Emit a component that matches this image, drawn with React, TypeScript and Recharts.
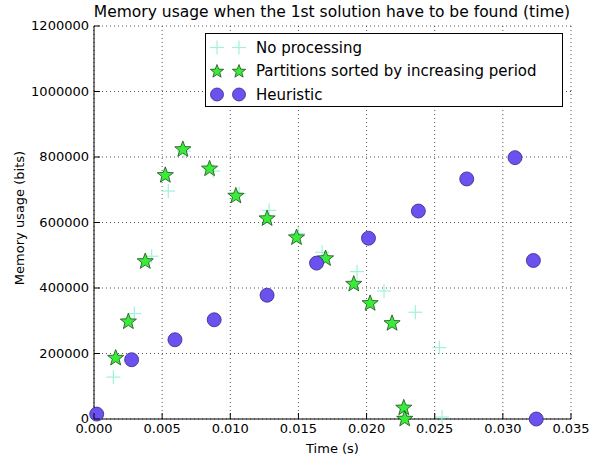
import React from 'react';
import {
  ScatterChart, Scatter, XAxis, YAxis, CartesianGrid,
} from 'recharts';

const FONT = '"DejaVu Sans", sans-serif';

// No processing (plus markers)
const plainTime = [0.00142, 0.00296, 0.00423, 0.00545, 0.0066, 0.00875, 0.01065, 0.01285, 0.01498, 0.01674, 0.0193, 0.02128, 0.02358, 0.02534, 0.02554];
const plainMem = [128000, 322000, 497000, 696000, 818000, 757000, 688000, 637000, 566000, 509000, 450000, 391000, 326000, 218000, 6000];

// Partitions sorted by increasing period (stars)
const sortedTime = [0.00159, 0.00252, 0.00376, 0.00523, 0.00652, 0.00848, 0.01041, 0.0127, 0.01486, 0.01699, 0.01906, 0.02026, 0.02187, 0.02273, 0.0228];
const sortedMem = [186000, 297000, 481000, 744000, 823000, 764000, 681000, 612000, 554000, 490000, 412000, 353000, 292000, 34000, 0];

// Heuristic (circles)
const heurTime = [0.0002, 0.00276, 0.00594, 0.00882, 0.0127, 0.01633, 0.02014, 0.0238, 0.02735, 0.03089, 0.03224, 0.03245];
const heurMem = [15000, 181000, 242000, 303000, 378000, 476000, 552000, 635000, 733000, 798000, 484000, 0];

const xTicks = [0, 0.005, 0.01, 0.015, 0.02, 0.025, 0.03, 0.035];
const yTicks = [0, 200000, 400000, 600000, 800000, 1000000, 1200000];

const seriesNames = ['No processing', 'Partitions sorted by increasing period', 'Heuristic'];

const toPoints = (ts: number[], vs: number[]) => ts.map((t, i) => ({ t, v: vs[i] }));

const PLUS_COLOR = '#9ff2dc';
const STAR_FILL = '#3aec3a';
const STAR_EDGE = '#1d4d1d';
const CIRCLE_FILL = '#6b52ee';
const CIRCLE_EDGE = '#35288a';

const Plus = ({ cx, cy }: any) => (
  <g>
    <line x1={cx - 7} x2={cx + 7} y1={cy} y2={cy} stroke={PLUS_COLOR} strokeWidth={1.2} />
    <line x1={cx} x2={cx} y1={cy - 7} y2={cy + 7} stroke={PLUS_COLOR} strokeWidth={1.2} />
  </g>
);

const starPath = (cx: number, cy: number, ro: number, ri: number) => {
  const pts: string[] = [];
  for (let k = 0; k < 10; k++) {
    const r = k % 2 === 0 ? ro : ri;
    const a = -Math.PI / 2 + (k * Math.PI) / 5;
    pts.push(`${cx + r * Math.cos(a)},${cy + r * Math.sin(a)}`);
  }
  return `M${pts.join('L')}Z`;
};

const Star = ({ cx, cy, starR = 8.5 }: any) => (
  <path d={starPath(cx, cy, starR, starR * 0.42)} fill={STAR_FILL} stroke={STAR_EDGE} strokeWidth={0.8} />
);

const Dot = ({ cx, cy, dotR = 7 }: any) => (
  <circle cx={cx} cy={cy} r={dotR} fill={CIRCLE_FILL} stroke={CIRCLE_EDGE} strokeWidth={0.8} />
);

const BottomTick = ({ x, y, payload }: any) => (
  <g>
    <line x1={x} x2={x} y1={y} y2={y - 6} stroke="#000" />
    <text x={x} y={y + 14} textAnchor="middle" fontSize={13} fontFamily={FONT} fill="#000">
      {Number(payload.value).toFixed(3)}
    </text>
  </g>
);

const TopTick = ({ x, y }: any) => (
  <line x1={x} x2={x} y1={y} y2={y + 6} stroke="#000" />
);

const LeftTick = ({ x, y, payload }: any) => (
  <g>
    <line x1={x} x2={x + 6} y1={y} y2={y} stroke="#000" />
    <text x={x - 5} y={y + 4} textAnchor="end" fontSize={13} fontFamily={FONT} fill="#000">
      {payload.value}
    </text>
  </g>
);

const RightTick = ({ x, y }: any) => (
  <line x1={x} x2={x - 6} y1={y} y2={y} stroke="#000" />
);

const LegendBox = () => {
  const markers = [
    (cx: number, cy: number) => <Plus cx={cx} cy={cy} />,
    (cx: number, cy: number) => <Star cx={cx} cy={cy} starR={7} />,
    (cx: number, cy: number) => <Dot cx={cx} cy={cy} dotR={6.5} />,
  ];
  return (
    <div style={{
      position: 'absolute', left: 205, top: 33, width: 356, height: 72,
      border: '1px solid #000', background: '#fff', fontFamily: FONT, fontSize: 15,
    }}>
      {seriesNames.map((name, i) => (
        <div key={name} style={{ position: 'absolute', left: 0, top: 2 + i * 23.5, height: 23, display: 'flex', alignItems: 'center' }}>
          <svg width={48} height={23}>
            {markers[i](11, 11.5)}
            {markers[i](33, 11.5)}
          </svg>
          <span style={{ marginLeft: 2 }}>{name}</span>
        </div>
      ))}
    </div>
  );
};

export default function App() {
  return (
    <div style={{ position: 'absolute', left: 0, top: 0, width: 602, height: 457, background: '#fff' }}>
      <div style={{
        position: 'absolute', left: 0, width: 664, top: 3, textAlign: 'center',
        fontFamily: FONT, fontSize: 15.5, color: '#000',
      }}>
        Memory usage when the 1st solution have to be found (time)
      </div>
      <ScatterChart width={602} height={457} margin={{ top: 26, right: 31, bottom: 0, left: 0 }}>
        <CartesianGrid stroke="#555" strokeDasharray="1 3" />
        <XAxis
          type="number" dataKey="t" domain={[0, 0.035]} ticks={xTicks}
          height={38} tickSize={0} tickMargin={0} tick={<BottomTick />}
          axisLine={{ stroke: '#000' }} tickLine={false}
          label={{ value: 'Time (s)', position: 'insideBottom', offset: 4, fontSize: 13, fontFamily: FONT, fill: '#000' }}
        />
        <XAxis
          xAxisId="top" orientation="top" type="number" dataKey="t" domain={[0, 0.035]} ticks={xTicks}
          height={0} tickSize={0} tickMargin={0} tick={<TopTick />}
          axisLine={{ stroke: '#000' }} tickLine={false}
        />
        <YAxis
          type="number" dataKey="v" domain={[0, 1200000]} ticks={yTicks}
          width={94} tickSize={0} tickMargin={0} tick={<LeftTick />}
          axisLine={{ stroke: '#000' }} tickLine={false}
          label={{
            content: () => (
              <text x={24} y={218} transform="rotate(-90 24 218)" textAnchor="middle"
                fontSize={13} fontFamily={FONT} fill="#000">Memory usage (bits)</text>
            ),
          }}
        />
        <YAxis
          yAxisId="right" orientation="right" type="number" dataKey="v" domain={[0, 1200000]} ticks={yTicks}
          width={0} tickSize={0} tickMargin={0} tick={<RightTick />}
          axisLine={{ stroke: '#000' }} tickLine={false}
        />
        <Scatter name={seriesNames[0]} data={toPoints(plainTime, plainMem)} shape={<Plus />} isAnimationActive={false} />
        <Scatter name={seriesNames[1]} data={toPoints(sortedTime, sortedMem)} shape={<Star />} isAnimationActive={false} />
        <Scatter name={seriesNames[2]} data={toPoints(heurTime, heurMem)} shape={<Dot />} isAnimationActive={false} />
      </ScatterChart>
      <LegendBox />
    </div>
  );
}
